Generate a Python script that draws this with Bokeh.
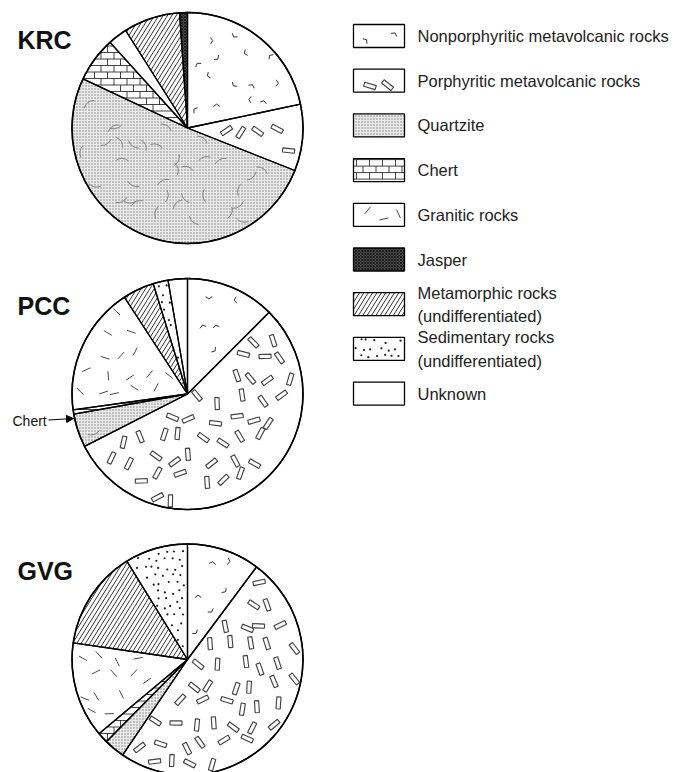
import numpy as np
from bokeh.plotting import figure
from bokeh.models import Range1d, Arrow, NormalHead
from bokeh.core.properties import value
from bokeh.embed import file_html
from bokeh.resources import INLINE

# ---------------- data ----------------
site_names = ["KRC", "PCC", "GVG"]

krc_rocks = ["Nonporphyritic", "Porphyritic", "Quartzite", "Chert", "Granitic", "Metamorphic", "Jasper"]
krc_pct = [21.7, 9.3, 51.0, 6.3, 2.7, 7.9, 1.1]

pcc_rocks = ["Nonporphyritic", "Porphyritic", "Quartzite", "Chert", "Granitic", "Metamorphic", "Sedimentary", "Unknown"]
pcc_pct = [12.5, 55.0, 4.7, 0.6, 18.0, 4.4, 2.1, 2.7]

gvg_rocks = ["Nonporphyritic", "Porphyritic", "Quartzite", "Chert", "Granitic", "Metamorphic", "Sedimentary"]
gvg_pct = [10.2, 49.3, 2.9, 1.5, 13.4, 13.9, 8.8]

legend_keys = ["Nonporphyritic", "Porphyritic", "Quartzite", "Chert", "Granitic", "Jasper",
               "Metamorphic", "Sedimentary", "Unknown"]
legend_labels = ["Nonporphyritic metavolcanic rocks", "Porphyritic metavolcanic rocks", "Quartzite",
                 "Chert", "Granitic rocks", "Jasper", "Metamorphic rocks\n(undifferentiated)",
                 "Sedimentary rocks\n(undifferentiated)", "Unknown"]

# ---------------- styles ----------------
# fill colour, built-in hatch (pattern, scale, weight, colour) or None, texture kind or None
styles = {
    "Nonporphyritic": ("white", None, "vmark"),
    "Porphyritic": ("white", None, "rects"),
    "Quartzite": ("#ebebeb", (".", 3, 0.55, "#7c7c7c"), "arcs"),
    "Chert": ("white", None, "brick"),
    "Granitic": ("white", None, "dashes"),
    "Jasper": ("#4a4a4a", ("x", 3, 0.8, "#111"), None),
    "Metamorphic": ("white", None, "meta"),
    "Sedimentary": ("white", None, "dots"),
    "Unknown": ("white", None, None),
}
tex_step = {"vmark": 23, "rects": 20, "dashes": 19, "dots": 8, "arcs": 20}
tex_margin = {"vmark": 4.5, "rects": 6.8, "dashes": 5.0, "dots": 1.6, "arcs": 12}

W, H = 686, 772


def Y(img_y):
    return H - np.asarray(img_y, dtype=float)


p = figure(width=W, height=H, x_range=Range1d(0, W), y_range=Range1d(0, H),
           output_backend="svg", toolbar_location=None, min_border=0,
           x_axis_location=None, y_axis_location=None, outline_line_color=None)
p.grid.visible = False
p.background_fill_color = "white"

FONT = "Liberation Sans"
R = 115.5
centers = [(187, 127.5), (187, 393.5), (187, 659)]
pies = [(krc_rocks, krc_pct), (pcc_rocks, pcc_pct), (gvg_rocks, gvg_pct)]


def frac(v):
    return v - np.floor(v)


def lattice(x0, y0, x1, y1, step, k):
    nx = int((x1 - x0) / step) + 3
    ny = int((y1 - y0) / step) + 3
    I, J = np.meshgrid(np.arange(nx), np.arange(ny))
    I = I.ravel().astype(float)
    J = J.ravel().astype(float)
    h1 = frac(np.sin(I * 12.9898 + J * 78.233 + k * 3.17) * 43758.5453)
    h2 = frac(np.sin(I * 39.3468 + J * 11.135 + k * 5.41) * 24634.6345)
    h3 = frac(np.sin(I * 73.156 + J * 52.235 + k * 7.93) * 14375.5964)
    px = x0 - step + I * step + (J % 2) * step / 2 + (h1 - 0.5) * 0.55 * step
    py = y0 - step + J * step + (h2 - 0.5) * 0.55 * step
    return px, py, h3 * np.pi


def wedge_mask(cx, cy, a1, a2):
    def f(px, py, m):
        dx = px - cx
        dy = py - cy
        r = np.hypot(dx, dy)
        phi = np.degrees(np.arctan2(dx, -dy)) % 360
        d1 = np.radians(np.clip(phi - a1, 0, 90))
        d2 = np.radians(np.clip(a2 - phi, 0, 90))
        return (phi > a1) & (phi < a2) & (r < R - m) & (r * np.sin(d1) > m) & (r * np.sin(d2) > m)
    return f


def rect_mask(x0, y0, x1, y1):
    def f(px, py, m):
        return (px > x0 + m) & (px < x1 - m) & (py > y0 + m) & (py < y1 - m)
    return f


def clip_line(mask, bx, by, dx, dy, half):
    t = np.arange(-half, half, 0.35)
    px = bx + t * dx
    py = by + t * dy
    ins = mask(px, py, 0.0)
    idx = np.nonzero(ins)[0]
    if len(idx) < 2:
        return None
    return px[idx[0]], py[idx[0]], px[idx[-1]], py[idx[-1]]


def draw_segs(segs, color, width):
    if not segs:
        return
    s = np.array(segs)
    p.segment(x0=s[:, 0], y0=Y(s[:, 1]), x1=s[:, 2], y1=Y(s[:, 3]),
              line_color=color, line_width=width)


def draw_lines(kind, bbox, mask):
    x0, y0, x1, y1 = bbox
    cxb, cyb = (x0 + x1) / 2, (y0 + y1) / 2
    half = np.hypot(x1 - x0, y1 - y0) / 2 + 2
    segs = []
    if kind == "meta":
        a = np.radians(58)
        d = (np.cos(a), -np.sin(a))
        n = (np.sin(a), np.cos(a))
        for c in np.arange(-half, half, 3.7):
            s = clip_line(mask, cxb + c * n[0], cyb + c * n[1], d[0], d[1], half)
            if s:
                segs.append(s)
        draw_segs(segs, "#1e1e1e", 0.9)
    elif kind == "brick":
        sp = 6.5
        ys = np.arange(y0 + 1, y1, sp)
        for yk in ys:
            s = clip_line(mask, cxb, yk, 1.0, 0.0, half)
            if s:
                segs.append(s)
        ticks = []
        for k, yk in enumerate(ys[:-1]):
            xs = np.arange(x0 + 3 + (k % 2) * 6.5, x1, 13)
            ok = mask(xs, np.full_like(xs, yk + 0.3), 0.4) & mask(xs, np.full_like(xs, yk + sp - 0.3), 0.4)
            for xv in xs[ok]:
                ticks.append((xv, yk, xv, yk + sp))
        draw_segs(segs + ticks, "#222", 0.85)


def draw_marks(kind, bbox, mask, k, lat_bbox=None, margin=None):
    if kind in ("meta", "brick"):
        draw_lines(kind, bbox, mask)
        return
    step = tex_step[kind]
    m = tex_margin[kind] if margin is None else margin
    px, py, ang = lattice(*(lat_bbox or bbox), step, k)
    sel = mask(px, py, m)
    px, py, ang = px[sel], py[sel], ang[sel]
    if len(px) == 0:
        return
    yy = Y(py)
    if kind == "vmark":
        L = 4.0
        a = ang * 2
        b = a + 1.9
        p.segment(x0=np.concatenate([px, px]), y0=np.concatenate([yy, yy]),
                  x1=np.concatenate([px + L * np.cos(a), px + L * np.cos(b)]),
                  y1=np.concatenate([yy + L * np.sin(a), yy + L * np.sin(b)]),
                  line_color="#333", line_width=1.0)
    elif kind == "rects":
        p.rect(x=px, y=yy, width=4.2, height=12, angle=ang, fill_color="white",
               line_color="#444", line_width=1.15)
    elif kind == "dashes":
        L = 4.6
        p.segment(x0=px - L * np.cos(ang), y0=yy - L * np.sin(ang),
                  x1=px + L * np.cos(ang), y1=yy + L * np.sin(ang),
                  line_color="#333", line_width=0.9)
    elif kind == "dots":
        p.scatter(x=px, y=yy, size=2.2, marker="circle", fill_color="#222", line_color=None)
    elif kind == "arcs":
        p.arc(x=px, y=yy, radius=11, start_angle=ang * 2, end_angle=ang * 2 + 1.2,
              line_color="#7a7a7a", line_width=0.9)


seed = 1
for (cx, cy), (rocks, pct), name in zip(centers, pies, site_names):
    cum = np.concatenate([[0.0], np.cumsum(pct)]) / 100.0 * 360.0
    bbox = (cx - R, cy - R, cx + R, cy + R)
    for i, rock in enumerate(rocks):
        a1, a2 = cum[i], cum[i + 1]
        start = np.radians(90 - a2)
        end = np.radians(90 - a1)
        fill, hatch, tex = styles[rock]
        p.wedge(x=cx, y=Y(cy), radius=R, start_angle=start, end_angle=end,
                fill_color=fill, line_color=None)
        if hatch:
            pat, sc, wt, col = hatch
            p.wedge(x=cx, y=Y(cy), radius=R, start_angle=start, end_angle=end,
                    fill_alpha=0, line_color=None, hatch_pattern=pat, hatch_scale=sc,
                    hatch_weight=wt, hatch_color=col)
        if tex:
            draw_marks(tex, bbox, wedge_mask(cx, cy, a1, a2), seed)
            seed += 1
    for i, rock in enumerate(rocks):
        a1, a2 = cum[i], cum[i + 1]
        p.wedge(x=cx, y=Y(cy), radius=R, start_angle=np.radians(90 - a2),
                end_angle=np.radians(90 - a1), fill_alpha=0, line_color="black", line_width=1.3)
    p.circle(x=cx, y=Y(cy), radius=R, fill_alpha=0, line_color="black", line_width=1.6)
    p.text(x=17, y=Y(cy - 88.5), text=[name], text_font=value(FONT), text_font_style="bold",
           text_font_size="25px", text_baseline="middle", text_align="left", text_color="#111")

# Chert call-out on PCC
p.text(x=12, y=Y(420), text=["Chert"], text_font=value(FONT), text_font_size="14px",
       text_baseline="middle", text_align="left", text_color="#111")
p.add_layout(Arrow(end=NormalHead(size=7, fill_color="black", line_color="black"),
                   x_start=48, y_start=Y(419.5), x_end=73, y_end=Y(418),
                   line_color="black", line_width=1))

# Legend
lx0, lw, lh = 353, 51, 23
ly0, lstep = 35.5, 44.7
legend_margin = {"vmark": 4.0, "rects": 4.5, "dashes": 4.0, "dots": 1.6}
for i, (key, lab) in enumerate(zip(legend_keys, legend_labels)):
    yc = ly0 + i * lstep
    fill, hatch, tex = styles[key]
    p.rect(x=lx0 + lw / 2, y=Y(yc), width=lw, height=lh, fill_color=fill, line_color=None)
    if hatch:
        pat, sc, wt, col = hatch
        p.rect(x=lx0 + lw / 2, y=Y(yc), width=lw, height=lh, fill_alpha=0, line_color=None,
               hatch_pattern=pat, hatch_scale=sc, hatch_weight=wt, hatch_color=col)
    if tex and tex != "arcs":
        box = (lx0, yc - lh / 2, lx0 + lw, yc + lh / 2)
        if tex in ("meta", "brick"):
            draw_marks(tex, box, rect_mask(*box), 50 + i)
        else:
            st = tex_step[tex]
            lat = (lx0 + 2, yc - (st if tex == "dots" else 0), lx0 + lw, yc + lh)
            draw_marks(tex, box, rect_mask(*box), 50 + i, lat_bbox=lat, margin=legend_margin[tex])
    p.rect(x=lx0 + lw / 2, y=Y(yc), width=lw, height=lh, fill_alpha=0,
           line_color="black", line_width=1.3)
    p.text(x=417, y=Y(yc), text=[lab], text_font=value(FONT), text_font_size="16.5px",
           text_baseline="middle", text_align="left", text_color="#222", text_line_height=1.3)

open("out.html", "w").write(file_html(p, INLINE))
